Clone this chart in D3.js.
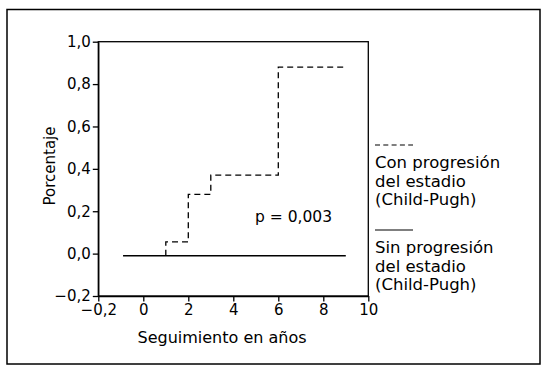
<!DOCTYPE html>
<html lang="es">
<head>
  <meta charset="UTF-8">
  <title>Seguimiento en años</title>
  <script src="https://d3js.org/d3.v7.min.js"></script>
  <style>
    body { margin: 0; background: #fff; }
    svg { display: block; font-family: "DejaVu Sans", sans-serif; }
    .axis path, .axis line { stroke: #000; stroke-width: 1.3; }
    .axis text { fill: #000; }
  </style>
</head>
<body>
  <div id="chart"></div>
  <script>
    // datos
    var xTicks = [-2, 0, 2, 4, 6, 8, 10];
    var xTickLabels = ["\u22120,2", "0", "2", "4", "6", "8", "10"];
    var yTicks = [-0.2, 0, 0.2, 0.4, 0.6, 0.8, 1.0];
    var yTickLabels = ["\u22120,2", "0,0", "0,2", "0,4", "0,6", "0,8", "1,0"];

    // Con progresión (escalones)
    var conX = [1, 1, 2, 3, 6, 8.9];
    var conY = [-0.01, 0.055, 0.28, 0.37, 0.88, 0.88];
    // Sin progresión
    var sinX = [-0.9, 9.0];
    var sinY = [-0.01, -0.01];

    var legendItems = [
      { dash: true, lines: ["Con progresión", "del estadio", "(Child-Pugh)"] },
      { dash: false, lines: ["Sin progresión", "del estadio", "(Child-Pugh)"] }
    ];

    var width = 548, height = 370;
    var svg = d3.select("#chart").append("svg")
      .attr("width", width)
      .attr("height", height);

    // marco exterior
    svg.append("rect")
      .attr("x", 7).attr("y", 9.5)
      .attr("width", 533).attr("height", 354.5)
      .attr("fill", "none").attr("stroke", "#000").attr("stroke-width", 1.5);

    var plotLeft = 98.3, plotRight = 368.3, plotTop = 41.7, plotBottom = 296;

    var x = d3.scaleLinear().domain([-2, 10]).range([plotLeft, plotRight]);
    var y = d3.scaleLinear().domain([-0.2, 1.0]).range([plotBottom, plotTop]);

    // caja del grafico
    svg.append("rect")
      .attr("x", plotLeft).attr("y", plotTop)
      .attr("width", plotRight - plotLeft).attr("height", plotBottom - plotTop)
      .attr("fill", "none").attr("stroke", "#000").attr("stroke-width", 1.3);

    svg.append("g")
      .attr("class", "axis")
      .attr("transform", "translate(0," + plotBottom + ")")
      .call(d3.axisBottom(x).tickValues(xTicks)
        .tickFormat(function (d, i) { return xTickLabels[i]; })
        .tickSize(5.5).tickSizeOuter(0).tickPadding(3))
      .attr("font-size", 15)
      .attr("font-family", "DejaVu Sans, sans-serif");

    svg.append("g")
      .attr("class", "axis")
      .attr("transform", "translate(" + plotLeft + ",0)")
      .call(d3.axisLeft(y).tickValues(yTicks)
        .tickFormat(function (d, i) { return yTickLabels[i]; })
        .tickSize(5.5).tickSizeOuter(0).tickPadding(2))
      .attr("font-size", 15)
      .attr("font-family", "DejaVu Sans, sans-serif");

    // curvas
    var line = d3.line()
      .x(function (d) { return x(d[0]); })
      .y(function (d) { return y(d[1]); })
      .curve(d3.curveStepAfter);

    svg.append("path")
      .datum(d3.zip(sinX, sinY))
      .attr("d", line)
      .attr("fill", "none").attr("stroke", "#000").attr("stroke-width", 1.3);

    svg.append("path")
      .datum(d3.zip(conX, conY))
      .attr("d", line)
      .attr("fill", "none").attr("stroke", "#000").attr("stroke-width", 1.3)
      .attr("stroke-dasharray", "6,4");

    svg.append("text")
      .attr("x", 255).attr("y", 222)
      .attr("font-size", 15.5)
      .text("p = 0,003");

    // titulos de ejes
    svg.append("text")
      .attr("x", 222).attr("y", 343)
      .attr("text-anchor", "middle")
      .attr("font-size", 16)
      .text("Seguimiento en años");

    svg.append("text")
      .attr("transform", "translate(55,166) rotate(-90)")
      .attr("text-anchor", "middle")
      .attr("font-size", 15)
      .text("Porcentaje");

    // leyenda
    var legendTop = [145, 230];
    legendItems.forEach(function (item, i) {
      var g = svg.append("g").attr("transform", "translate(375," + legendTop[i] + ")");
      g.append("line")
        .attr("x1", 0).attr("x2", 38)
        .attr("y1", 0).attr("y2", 0)
        .attr("stroke", "#000").attr("stroke-width", 1.2)
        .attr("stroke-dasharray", item.dash ? "5,3.3" : null);
      item.lines.forEach(function (t, j) {
        g.append("text")
          .attr("x", 0).attr("y", 23 + j * 18.7)
          .attr("font-size", 16.5)
          .text(t);
      });
    });
  </script>
</body>
</html>
